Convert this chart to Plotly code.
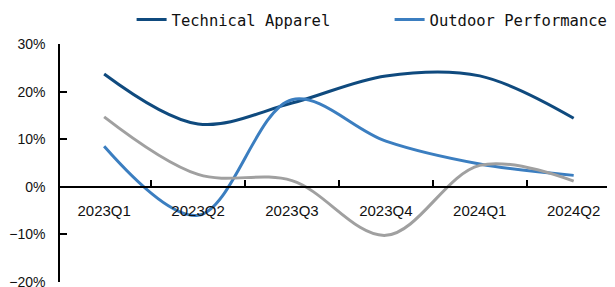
import plotly.graph_objects as go

quarters = ["2023Q1", "2023Q2", "2023Q3", "2023Q4", "2024Q1", "2024Q2"]
technical_apparel = [23.7, 13.2, 17.6, 23.3, 23.3, 14.4]
outdoor_performance = [8.5, -6.0, 18.3, 9.6, 4.8, 2.4]
other_segment = [14.7, 2.6, 1.3, -10.2, 4.5, 1.2]
y_ticks = [-20, -10, 0, 10, 20, 30]
y_tick_labels = ["−20%", "−10%", "0%", "10%", "20%", "30%"]

navy = "#0f4a7e"
blue = "#3b7ec0"
gray = "#a0a0a0"

# the page body has an 8px default margin, so the figure is sized 607x279
W, H = 607, 279

fig = go.Figure()
fig.add_trace(go.Scatter(x=quarters, y=technical_apparel, name="Technical Apparel",
                         mode="lines", line=dict(color=navy, width=3, shape="spline", smoothing=1.0)))
fig.add_trace(go.Scatter(x=quarters, y=outdoor_performance, name="Outdoor Performance",
                         mode="lines", line=dict(color=blue, width=3, shape="spline", smoothing=1.0)))
fig.add_trace(go.Scatter(x=quarters, y=other_segment, name="Other", showlegend=False,
                         mode="lines", line=dict(color=gray, width=3, shape="spline", smoothing=1.0)))

fig.update_layout(
    width=W, height=H,
    margin=dict(l=52, r=0, t=36, b=5, autoexpand=False),
    paper_bgcolor="white", plot_bgcolor="white",
    font=dict(family="Liberation Sans, Arial, sans-serif", size=14, color="#111"),
    showlegend=True,
    legend=dict(orientation="h", xref="container", yref="container",
                x=123.6 / W, y=1 - 12 / H, xanchor="left", yanchor="middle",
                font=dict(family="DejaVu Sans Mono, monospace", size=15.5, color="#111"),
                entrywidth=213, bgcolor="rgba(0,0,0,0)"),
    xaxis=dict(type="category", range=[-0.47, 5.44], anchor="free", position=0.4,
               showline=True, linecolor="black", linewidth=1.5,
               ticks="inside", tickson="boundaries", ticklen=6, tickcolor="black", tickwidth=1.5,
               showgrid=False, zeroline=False, ticklabelstandoff=10,
               tickfont=dict(size=15)),
    yaxis=dict(range=[-20, 30], tickmode="array", tickvals=y_ticks, ticktext=y_tick_labels,
               showline=True, linecolor="black", linewidth=1.5,
               ticks="inside", ticklen=7, tickcolor="black", tickwidth=1.5,
               showgrid=False, zeroline=False, ticklabelstandoff=10,
               ticklabeloverflow="allow", tickfont=dict(size=14)),
)

fig.write_html("out.html")
